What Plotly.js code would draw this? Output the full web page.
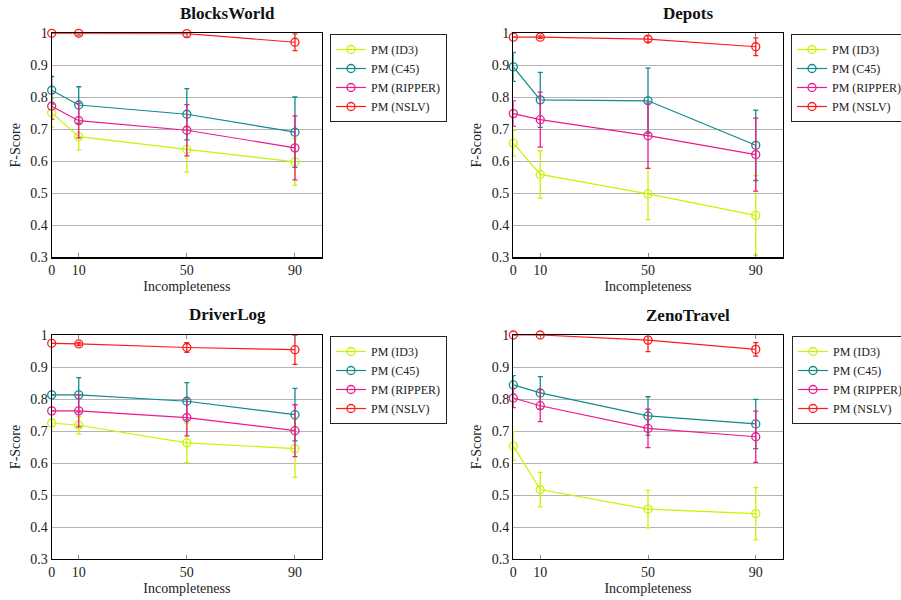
<!DOCTYPE html>
<html>
<head>
<meta charset="utf-8">
<script src="https://cdn.plot.ly/plotly-3.0.1.min.js"></script>
<style>html,body{margin:0;padding:0;background:#fff;overflow:hidden}</style>
</head>
<body>
<div id="chart" style="width:901px;height:600px"></div>
<script>
const incompleteness = [0, 10, 50, 90];
const methods = ["PM (ID3)", "PM (C45)", "PM (RIPPER)", "PM (NSLV)"];
const panelTitles = ["BlocksWorld", "Depots", "DriverLog", "ZenoTravel"];
const yTickVals = [0.3, 0.4, 0.5, 0.6, 0.7, 0.8, 0.9, 1.0];
const yTickText = ["0.3", "0.4", "0.5", "0.6", "0.7", "0.8", "0.9", "1"];

// BlocksWorld
const bw_id3 = [0.752, 0.677, 0.637, 0.598];
const bw_id3_err = [0.045, 0.042, 0.071, 0.073];
const bw_c45 = [0.822, 0.776, 0.747, 0.691];
const bw_c45_err = [0.043, 0.057, 0.080, 0.110];
const bw_ripper = [0.772, 0.727, 0.697, 0.642];
const bw_ripper_err = [0.040, 0.054, 0.080, 0.100];
const bw_nslv = [1.0, 1.0, 0.999, 0.972];
const bw_nslv_err = [0.0, 0.006, 0.012, 0.026];

// Depots
const dp_id3 = [0.657, 0.559, 0.498, 0.431];
const dp_id3_err = [0.040, 0.074, 0.080, 0.124];
const dp_c45 = [0.895, 0.792, 0.789, 0.650];
const dp_c45_err = [0.045, 0.086, 0.102, 0.110];
const dp_ripper = [0.749, 0.730, 0.680, 0.621];
const dp_ripper_err = [0.040, 0.086, 0.102, 0.114];
const dp_nslv = [0.988, 0.988, 0.982, 0.958];
const dp_nslv_err = [0.0, 0.004, 0.010, 0.028];

// DriverLog
const dl_id3 = [0.725, 0.718, 0.663, 0.645];
const dl_id3_err = [0.010, 0.027, 0.062, 0.090];
const dl_c45 = [0.813, 0.813, 0.793, 0.751];
const dl_c45_err = [0.0, 0.054, 0.058, 0.082];
const dl_ripper = [0.763, 0.763, 0.742, 0.701];
const dl_ripper_err = [0.0, 0.050, 0.057, 0.081];
const dl_nslv = [0.974, 0.972, 0.961, 0.954];
const dl_nslv_err = [0.0, 0.005, 0.015, 0.046];

// ZenoTravel
const zt_id3 = [0.653, 0.517, 0.456, 0.442];
const zt_id3_err = [0.045, 0.054, 0.059, 0.082];
const zt_c45 = [0.844, 0.819, 0.747, 0.722];
const zt_c45_err = [0.029, 0.051, 0.060, 0.077];
const zt_ripper = [0.803, 0.779, 0.708, 0.682];
const zt_ripper_err = [0.030, 0.050, 0.060, 0.080];
const zt_nslv = [1.0, 1.0, 0.984, 0.955];
const zt_nslv_err = [0.0, 0.0, 0.036, 0.021];

const colors = ["#c6f500", "#108a8a", "#ec1a8c", "#ff1a1a"];
const FONT = "'Liberation Serif', 'DejaVu Serif', serif";

const panels = [
  [bw_id3, bw_c45, bw_ripper, bw_nslv],
  [dp_id3, dp_c45, dp_ripper, dp_nslv],
  [dl_id3, dl_c45, dl_ripper, dl_nslv],
  [zt_id3, zt_c45, zt_ripper, zt_nslv]
];
const panelErrs = [
  [bw_id3_err, bw_c45_err, bw_ripper_err, bw_nslv_err],
  [dp_id3_err, dp_c45_err, dp_ripper_err, dp_nslv_err],
  [dl_id3_err, dl_c45_err, dl_ripper_err, dl_nslv_err],
  [zt_id3_err, zt_c45_err, zt_ripper_err, zt_nslv_err]
];

const W = 901, H = 600;
const xDomains = [[51.7 / W, 322 / W], [513.3 / W, 782.7 / W]];
const yDomains = [[1 - 257.3 / H, 1 - 33.3 / H], [1 - 559 / H, 1 - 335 / H]];
const legendPos = [[330, 34], [791, 34], [330, 336], [792, 336]];
const titlePos = [[228, 13], [688, 13], [228, 314], [688, 316]];

const traces = [];
const layout = {
  width: W, height: H,
  margin: {l: 0, r: 0, t: 0, b: 0, autoexpand: false},
  paper_bgcolor: "#fff", plot_bgcolor: "#fff",
  showlegend: true,
  font: {family: FONT, size: 14, color: "#222"},
  annotations: []
};

for (let p = 0; p < 4; p++) {
  const col = p % 2, row = Math.floor(p / 2);
  const n = p + 1;
  const xa = "x" + (n === 1 ? "" : n), ya = "y" + (n === 1 ? "" : n);
  const legName = "legend" + (n === 1 ? "" : n);
  for (let m = 0; m < 4; m++) {
    traces.push({
      type: "scatter", mode: "lines+markers",
      x: incompleteness, y: panels[p][m],
      name: methods[m],
      xaxis: xa, yaxis: ya,
      legend: legName,
      line: {color: colors[m], width: 1.2},
      marker: {symbol: "circle-open", size: 8, color: colors[m], line: {width: 1.3}},
      error_y: {type: "data", array: panelErrs[p][m], visible: true, color: colors[m], thickness: 1.3, width: 2.5},
      cliponaxis: false
    });
  }
  const xKey = "xaxis" + (n === 1 ? "" : n), yKey = "yaxis" + (n === 1 ? "" : n);
  layout[xKey] = {
    domain: xDomains[col], anchor: ya, range: [0, 100],
    tickvals: incompleteness, ticktext: incompleteness.map(String),
    ticks: "inside", ticklen: 4, tickcolor: "#888", mirror: "ticks",
    showline: true, linecolor: "#000", linewidth: 1.2, showgrid: false, zeroline: false,
    tickfont: {family: FONT, size: 14, color: "#222"},
    title: {text: "Incompleteness", font: {family: FONT, size: 14, color: "#222"}, standoff: 4},
    automargin: false
  };
  layout[yKey] = {
    domain: yDomains[row], anchor: xa, range: [0.3, 1.0],
    tickvals: yTickVals, ticktext: yTickText,
    ticks: "", mirror: true,
    showline: true, linecolor: "#000", linewidth: 1.2,
    showgrid: true, gridcolor: "#b4b4b4", gridwidth: 1, zeroline: false,
    tickfont: {family: FONT, size: 14, color: "#222"},
    title: {text: "F-Score", font: {family: FONT, size: 14, color: "#222"}, standoff: 6},
    automargin: false
  };
  layout[legName] = {
    x: legendPos[p][0] / W, y: 1 - legendPos[p][1] / H,
    xanchor: "left", yanchor: "top",
    bgcolor: "#fff", bordercolor: "#222", borderwidth: 1,
    font: {family: FONT, size: 12, color: "#222"},
    itemwidth: 30, tracegroupgap: 0
  };
  layout.annotations.push({
    text: "<b>" + panelTitles[p] + "</b>",
    xref: "paper", yref: "paper",
    x: titlePos[p][0] / W, y: 1 - titlePos[p][1] / H,
    xanchor: "center", yanchor: "middle", showarrow: false,
    font: {family: FONT, size: 17, color: "#111"}
  });
}

Plotly.newPlot("chart", traces, layout, {displayModeBar: false, staticPlot: true});
</script>
</body>
</html>
